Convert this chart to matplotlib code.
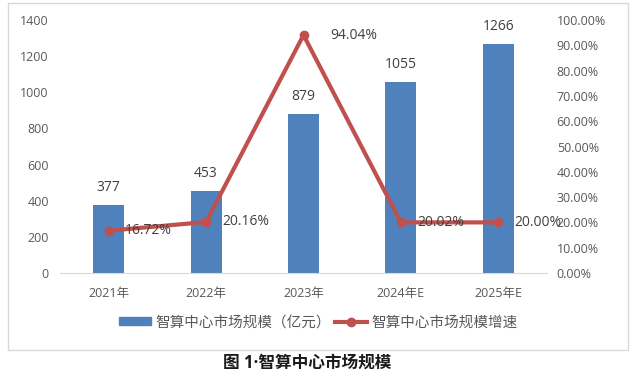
import matplotlib.pyplot as plt
from matplotlib.patches import Rectangle
from matplotlib.lines import Line2D
from matplotlib.ticker import FuncFormatter

plt.rcParams['font.family'] = ['Open Sans', 'Noto Sans CJK SC', 'DejaVu Sans']

years = ["2021年", "2022年", "2023年", "2024年E", "2025年E"]
scale = [377, 453, 879, 1055, 1266]
growth = [16.72, 20.16, 94.04, 20.02, 20.00]
label_dx = [0.17, 0.17, 0.27, 0.17, 0.17]

blue = "#4F81BD"
red = "#C0504D"
gray = "#595959"

fig = plt.figure(figsize=(6.37, 3.80), dpi=100)

# outer chart frame
fig.patches.append(Rectangle((8 / 637, 1 - 350 / 380), 620 / 637, 347 / 380,
                             transform=fig.transFigure, fill=False,
                             edgecolor="#D9D9D9", linewidth=1))

ax = fig.add_axes([60 / 637, 1 - 273 / 380, 487 / 637, 253 / 380])
x = list(range(len(years)))
ax.bar(x, scale, width=0.32, color=blue, zorder=2)
for xi, v in zip(x, scale):
    ax.text(xi, v + 55, str(v), ha="center", va="bottom", fontsize=10, color="#404040")

ax.set_xlim(-0.5, len(years) - 0.5)
ax.set_ylim(0, 1400)
ax.set_yticks(range(0, 1401, 200))
ax.set_xticks(x)
ax.set_xticklabels(years)
for s in ["top", "right", "left"]:
    ax.spines[s].set_visible(False)
ax.spines["bottom"].set_color("#D9D9D9")
ax.tick_params(axis="both", length=0, labelsize=9, colors=gray)
ax.tick_params(axis="y", pad=8)
ax.tick_params(axis="x", pad=10)

ax2 = ax.twinx()
ax2.plot(x, growth, color=red, linewidth=3, marker="o", markersize=6, zorder=3)
for xi, g, dx in zip(x, growth, label_dx):
    ax2.text(xi + dx, g, f"{g:.2f}%", ha="left", va="center", fontsize=10, color="#404040")
ax2.set_ylim(0, 100)
ax2.set_yticks(range(0, 101, 10))
ax2.yaxis.set_major_formatter(FuncFormatter(lambda v, p: f"{v:.2f}%"))
for s in ["top", "right", "left", "bottom"]:
    ax2.spines[s].set_visible(False)
ax2.tick_params(axis="y", length=0, labelsize=9, colors=gray, pad=7)

handles = [Rectangle((0, 0), 1, 1, color=blue),
           Line2D([0], [0], color=red, linewidth=3, marker="o", markersize=6)]
fig.legend(handles, ["智算中心市场规模（亿元）", "智算中心市场规模增速"],
           loc="center", bbox_to_anchor=(0.5, 1 - 323 / 380), ncol=2, frameon=False,
           fontsize=10.5, labelcolor=gray, handlelength=2.2, handleheight=0.5,
           handletextpad=0.3, columnspacing=0.3)

fig.text(307 / 637, 1 - 363 / 380, "图 1·智算中心市场规模", ha="center", va="center",
         fontsize=12, fontweight="bold", color="#1a1a1a")

fig.savefig("out.png", dpi=100)
